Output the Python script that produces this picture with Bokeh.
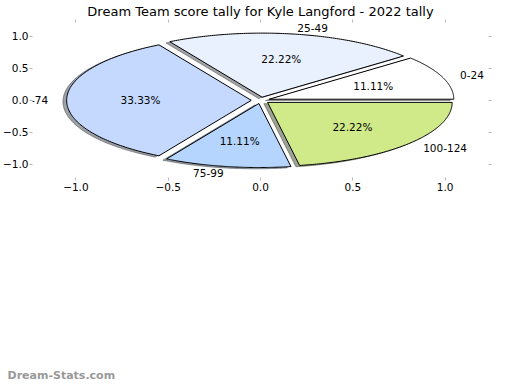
import numpy as np
from bokeh.plotting import figure
from bokeh.layouts import column
from bokeh.models import LinearAxis, FixedTicker, Title, LabelSet, ColumnDataSource, Range1d
from bokeh.core.properties import value
from bokeh.embed import file_html
from bokeh.resources import INLINE

# ---- data ----
title_text = "Dream Team score tally for Kyle Langford - 2022 tally"
categories = ["0-24", "25-49", "50-74", "75-99", "100-124"]
counts = [1, 2, 3, 1, 2]
colors = ["#ffffff", "#e9f1fe", "#c5d9fe", "#b5d5fe", "#d0ea8a"]
tick_values = [-1.0, -0.5, 0.0, 0.5, 1.0]
tick_labels = ["\u22121.0", "\u22120.5", "0.0", "0.5", "1.0"]
watermark = "Dream-Stats.com"

# ---- styles ----
EXPLODE = 0.05
SHADOW = 0.02
FONT = "DejaVu Sans"
FS = "10.5px"

vals = np.array(counts, dtype=float)
frac = vals / vals.sum()
edges = np.concatenate([[0.0], np.cumsum(frac)]) * 360.0


def darken(h):
    h = h.lstrip("#")
    r, g, b = (int(h[i:i + 2], 16) for i in (0, 2, 4))
    return "#%02x%02x%02x" % (int(r * 0.3), int(g * 0.3), int(b * 0.3))


wx, wy, shx, shy, shc = [], [], [], [], []
lx, ly, la, px, py, ptxt = [], [], [], [], [], []
for i in range(len(counts)):
    t1, t2 = edges[i], edges[i + 1]
    mid = np.deg2rad((t1 + t2) / 2)
    cx, cy = EXPLODE * np.cos(mid), EXPLODE * np.sin(mid)
    th = np.deg2rad(np.linspace(t1, t2, 120))
    xs = np.concatenate([[cx], cx + np.cos(th), [cx]])
    ys = np.concatenate([[cy], cy + np.sin(th), [cy]])
    wx.append(xs.tolist()); wy.append(ys.tolist())
    shx.append((xs - SHADOW).tolist()); shy.append((ys - SHADOW).tolist())
    shc.append(darken(colors[i]))
    x_l = cx + 1.1 * np.cos(mid); y_l = cy + 1.1 * np.sin(mid)
    lx.append(x_l); ly.append(y_l); la.append("left" if x_l > 0 else "right")
    px.append(cx + 0.6 * np.cos(mid)); py.append(cy + 0.6 * np.sin(mid))
    ptxt.append("%.2f%%" % (100 * frac[i]))

p = figure(frame_width=456, frame_height=155,
           x_range=Range1d(-1.235, 1.235), y_range=Range1d(-1.205, 1.215),
           output_backend="svg", toolbar_location=None,
           min_border_left=0, min_border_right=14, min_border_top=0,
           min_border_bottom=0)

p.title.text = title_text
p.title.align = "center"
p.title.text_font = FONT
p.title.text_font_style = "normal"
p.title.text_font_size = "13px"
p.title.text_color = "#000000"
p.title.standoff = 2

p.xgrid.visible = False
p.ygrid.visible = False
p.outline_line_color = None
p.background_fill_color = "white"
p.border_fill_color = "white"

for ax in [p.xaxis[0], p.yaxis[0]]:
    ax.ticker = FixedTicker(ticks=tick_values)
    ax.major_label_overrides = dict(zip(tick_values, tick_labels))
    ax.axis_line_color = None
    ax.major_tick_line_color = "#b8b8b8"
    ax.major_tick_out = 3
    ax.major_tick_in = 0
    ax.minor_tick_line_color = None
    ax.major_label_text_font = FONT
    ax.major_label_text_font_size = FS
    ax.major_label_text_color = "#000000"
    ax.major_label_standoff = 1
p.xaxis[0].major_label_standoff = 2

for loc in ["above", "right"]:
    ax = LinearAxis(ticker=FixedTicker(ticks=tick_values),
                    major_label_overrides={v: "" for v in tick_values})
    ax.axis_line_color = None
    ax.major_tick_line_color = "#b8b8b8"
    ax.major_tick_out = 3
    ax.major_tick_in = 0
    ax.minor_tick_line_color = None
    ax.major_label_text_font_size = "0px"
    ax.major_label_standoff = 0
    p.add_layout(ax, loc)

# shadows first, then wedges
p.patches(shx, shy, fill_color=shc, fill_alpha=0.5, line_color=shc,
          line_alpha=0.5, line_width=1)
p.patches(wx, wy, fill_color=colors, line_color="black", line_width=1)

lsrc = ColumnDataSource(dict(x=lx, y=ly, t=categories, a=la))
p.add_layout(LabelSet(x="x", y="y", text="t", source=lsrc, text_align="a",
                      text_baseline="middle", text_font=value(FONT),
                      text_font_size=value(FS), text_color="black"))
psrc = ColumnDataSource(dict(x=px, y=py, t=ptxt))
p.add_layout(LabelSet(x="x", y="y", text="t", source=psrc,
                      text_align="center", text_baseline="middle",
                      text_font=value(FONT), text_font_size=value(FS),
                      text_color="black"))

# watermark strip below the chart
q = figure(width=300, height=188, x_range=Range1d(0, 1), y_range=Range1d(0, 1),
           output_backend="svg", toolbar_location=None,
           x_axis_location=None, y_axis_location=None,
           min_border_left=0, min_border_right=0, min_border_top=0,
           min_border_bottom=0)
q.xgrid.visible = False
q.ygrid.visible = False
q.outline_line_color = None
q.background_fill_color = "white"
q.border_fill_color = "white"
q.add_layout(Title(text=watermark, align="left", offset=-25, standoff=0,
                   vertical_align="bottom", text_font=FONT,
                   text_font_size="11px", text_font_style="bold",
                   text_color="#999999"), "below")

layout = column(p, q, spacing=0)
open("out.html", "w").write(file_html(layout, INLINE))
